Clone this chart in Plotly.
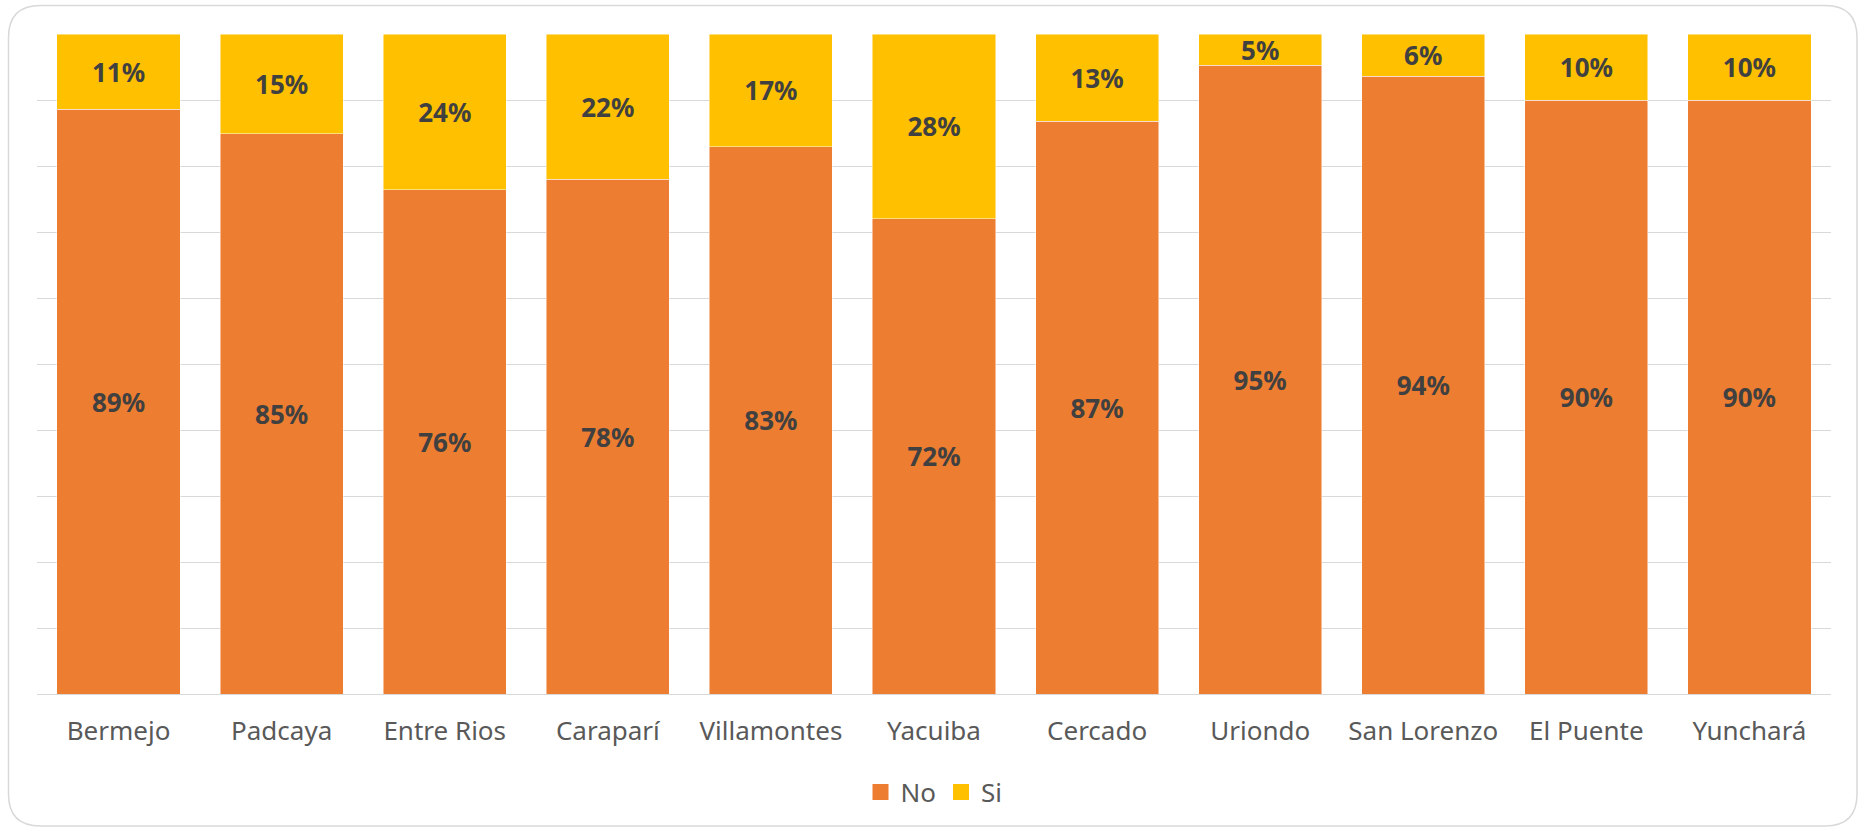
import plotly.graph_objects as go

categories = ["Bermejo", "Padcaya", "Entre Rios", "Caraparí", "Villamontes", "Yacuiba",
              "Cercado", "Uriondo", "San Lorenzo", "El Puente", "Yunchará"]
no_vals = [88.6, 84.9, 76.4, 78.0, 82.9, 72.0, 86.8, 95.3, 93.6, 90.0, 90.0]
si_vals = [11.4, 15.1, 23.6, 22.0, 17.1, 28.0, 13.2, 4.7, 6.4, 10.0, 10.0]
series = [("No", no_vals, "#ED7D31"), ("Si", si_vals, "#FFC000")]

W, H = 1859, 829
L, R, T, B = 37, 28, 34, 135
pw, ph = W - L - R, H - T - B

def px(x):
    return (x - L) / pw

def py(y):
    return 1 - (y - T) / ph

fig = go.Figure()
for name, vals, color in series:
    fig.add_trace(go.Bar(
        name=name, x=categories, y=vals, showlegend=False,
        marker=dict(color=color, line=dict(color="rgba(255,255,255,0.6)", width=0.8)),
        texttemplate="%{y:.0f}%",
        textposition="inside", insidetextanchor="middle", textangle=0,
        constraintext="none",
        textfont=dict(family="Noto Sans", size=26, color="#404040", weight="bold"),
        hoverinfo="x+y+name",
    ))
# legend entries with larger square swatches
for name, vals, color in series:
    fig.add_trace(go.Scatter(
        name=name, x=[None], y=[None], mode="markers",
        marker=dict(symbol="square", size=17, color=color), showlegend=True,
    ))

# rounded chart border (pixel coordinates converted to paper)
x0, x1, y0, y1, r = 8.5, 1857, 5.5, 826, 32
path = (f"M {px(x0 + r)},{py(y0)} L {px(x1 - r)},{py(y0)} "
        f"Q {px(x1)},{py(y0)} {px(x1)},{py(y0 + r)} "
        f"L {px(x1)},{py(y1 - r)} Q {px(x1)},{py(y1)} {px(x1 - r)},{py(y1)} "
        f"L {px(x0 + r)},{py(y1)} Q {px(x0)},{py(y1)} {px(x0)},{py(y1 - r)} "
        f"L {px(x0)},{py(y0 + r)} Q {px(x0)},{py(y0)} {px(x0 + r)},{py(y0)} Z")

fig.update_layout(
    width=W, height=H,
    margin=dict(l=L, r=R, t=T, b=B),
    barmode="stack", bargap=0.245,
    paper_bgcolor="white", plot_bgcolor="white",
    font=dict(family="Noto Sans", color="#595959"),
    showlegend=True,
    legend=dict(orientation="h", x=0.5, xanchor="center", y=py(792), yanchor="middle",
                font=dict(size=26, color="#595959"), itemwidth=30, traceorder="normal"),
    xaxis=dict(showgrid=False, showline=False, ticks="", tickfont=dict(size=26, color="#595959"),
               ticklabelstandoff=19),
    yaxis=dict(range=[0, 100], dtick=10, showticklabels=False, showgrid=True,
               gridcolor="#D9D9D9", gridwidth=1.2, zeroline=True, zerolinecolor="#D9D9D9",
               zerolinewidth=1.2, showline=False),
    shapes=[dict(type="path", xref="paper", yref="paper", path=path,
                 line=dict(color="#D9D9D9", width=1.5), layer="below")],
)

fig.write_html("out.html", config={"displayModeBar": False},
               post_script="document.body.style.margin='0px';")
